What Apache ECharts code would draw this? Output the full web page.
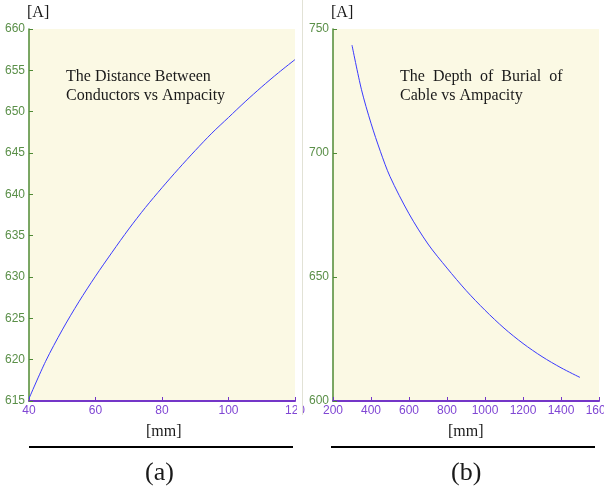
<!DOCTYPE html>
<html>
<head>
<meta charset="utf-8">
<script src="https://cdn.jsdelivr.net/npm/echarts@6/dist/echarts.min.js"></script>
<style>
	html, body { margin: 0; padding: 0; background: #fff; overflow: hidden; }
	#chart { width: 624px; height: 493px; }		/* a bit wider than the window so "1600" gets cut like the original */
</style>
</head>
<body>
<div id="chart"></div>
<script>
// (a) distance between conductors [mm] vs ampacity [A]
var distX = [40, 45, 50, 55, 60, 65, 70, 75, 80, 85, 90, 95, 100, 105, 110, 115, 120];
var distA = [615.3, 619.8, 623.6, 627.0, 630.1, 633.0, 635.8, 638.4, 640.8, 643.1, 645.3, 647.4, 649.3, 651.2, 653.0, 654.7, 656.3];

// (b) depth of burial [mm] vs ampacity [A]
var depthX = [300, 350, 400, 450, 500, 600, 700, 800, 900, 1000, 1100, 1200, 1300, 1400, 1500];
var depthA = [743.5, 725.5, 712.0, 700.5, 690.5, 675.5, 663.3, 653.6, 644.6, 636.6, 629.4, 623.2, 617.9, 613.4, 609.5];

var titleA = ['The Distance Between', 'Conductors vs Ampacity'];
var titleB = ['The  Depth  of  Burial  of', 'Cable vs Ampacity'];

var green = '#4f8a35',
	greenTxt = '#5a8f48',
	purple = '#7436c8',
	purpleTxt = '#8047d4',
	bg = '#fbf9e4',
	serif = '"Liberation Serif", "DejaVu Serif", serif',
	sans = '"Liberation Sans", "DejaVu Sans", sans-serif';

function pairs(xs, ys) {
	var out = [];
	for (var i = 0; i < xs.length; i++) {
		out.push([xs[i], ys[i]]);
	}
	return out;
}

function plain(v) {			// no thousands separator
	return String(v);
}

function xAxisConf(idx, min, max, step) {
	return {
		type: 'value', gridIndex: idx, min: min, max: max, interval: step,
		axisLine: { show: true, lineStyle: { color: purple, width: 2 } },
		axisTick: { show: true, inside: true, length: 4, lineStyle: { color: purple } },
		axisLabel: { color: purpleTxt, fontFamily: sans, fontSize: 12, margin: 4, formatter: plain },
		splitLine: { show: false }
	};
}

function yAxisConf(idx, min, max, step) {
	return {
		type: 'value', gridIndex: idx, min: min, max: max, interval: step,
		axisLine: { show: true, lineStyle: { color: green, width: 1.5 } },
		axisTick: { show: true, inside: true, length: 4, lineStyle: { color: green } },
		axisLabel: { color: greenTxt, fontFamily: sans, fontSize: 12, margin: 4, formatter: plain },
		splitLine: { show: false }
	};
}

function txt(x, y, s, size) {
	return {
		type: 'text', left: x, top: y, z: 50,
		style: { text: s, font: size + 'px ' + serif, fill: '#1a1a1a' }
	};
}

var chart = echarts.init(document.getElementById('chart'));

chart.setOption({
	animation: false,
	backgroundColor: '#fff',
	grid: [
		{ left: 29, top: 29, width: 266, height: 372, show: true, backgroundColor: bg, borderWidth: 0 },
		{ left: 333, top: 29, width: 266, height: 372, show: true, backgroundColor: bg, borderWidth: 0 }
	],
	xAxis: [
		xAxisConf(0, 40, 120, 20),
		xAxisConf(1, 200, 1600, 200)
	],
	yAxis: [
		yAxisConf(0, 615, 660, 5),
		yAxisConf(1, 600, 750, 50)
	],
	series: [
		{
			type: 'line', xAxisIndex: 0, yAxisIndex: 0, data: pairs(distX, distA),
			smooth: 0.3, showSymbol: false, lineStyle: { color: '#3a3aff', width: 1 }
		},
		{
			type: 'line', xAxisIndex: 1, yAxisIndex: 1, data: pairs(depthX, depthA),
			smooth: 0.3, showSymbol: false, lineStyle: { color: '#3a3aff', width: 1 }
		}
	],
	graphic: [
		// seam between the two panels
		{ type: 'rect', z: 40, shape: { x: 297, y: 0, width: 5, height: 493 }, style: { fill: '#fff' } },
		{ type: 'line', z: 41, shape: { x1: 302.5, y1: 0, x2: 302.5, y2: 415 }, style: { stroke: '#e2e2d6', lineWidth: 1 } },

		txt(27, 5, '[A]', 16),
		txt(331, 5, '[A]', 16),

		txt(66, 69, titleA[0], 16),
		txt(66, 88, titleA[1], 16),
		txt(400, 69, titleB[0], 16),
		txt(400, 88, titleB[1], 16),

		txt(146, 424, '[mm]', 16),
		txt(448, 424, '[mm]', 16),

		{ type: 'line', z: 41, shape: { x1: 29, y1: 447, x2: 293, y2: 447 }, style: { stroke: '#000', lineWidth: 2 } },
		{ type: 'line', z: 41, shape: { x1: 331, y1: 447, x2: 595, y2: 447 }, style: { stroke: '#000', lineWidth: 2 } },

		txt(145, 460, '(a)', 26),
		txt(451, 460, '(b)', 26)
	]
});
</script>
</body>
</html>
